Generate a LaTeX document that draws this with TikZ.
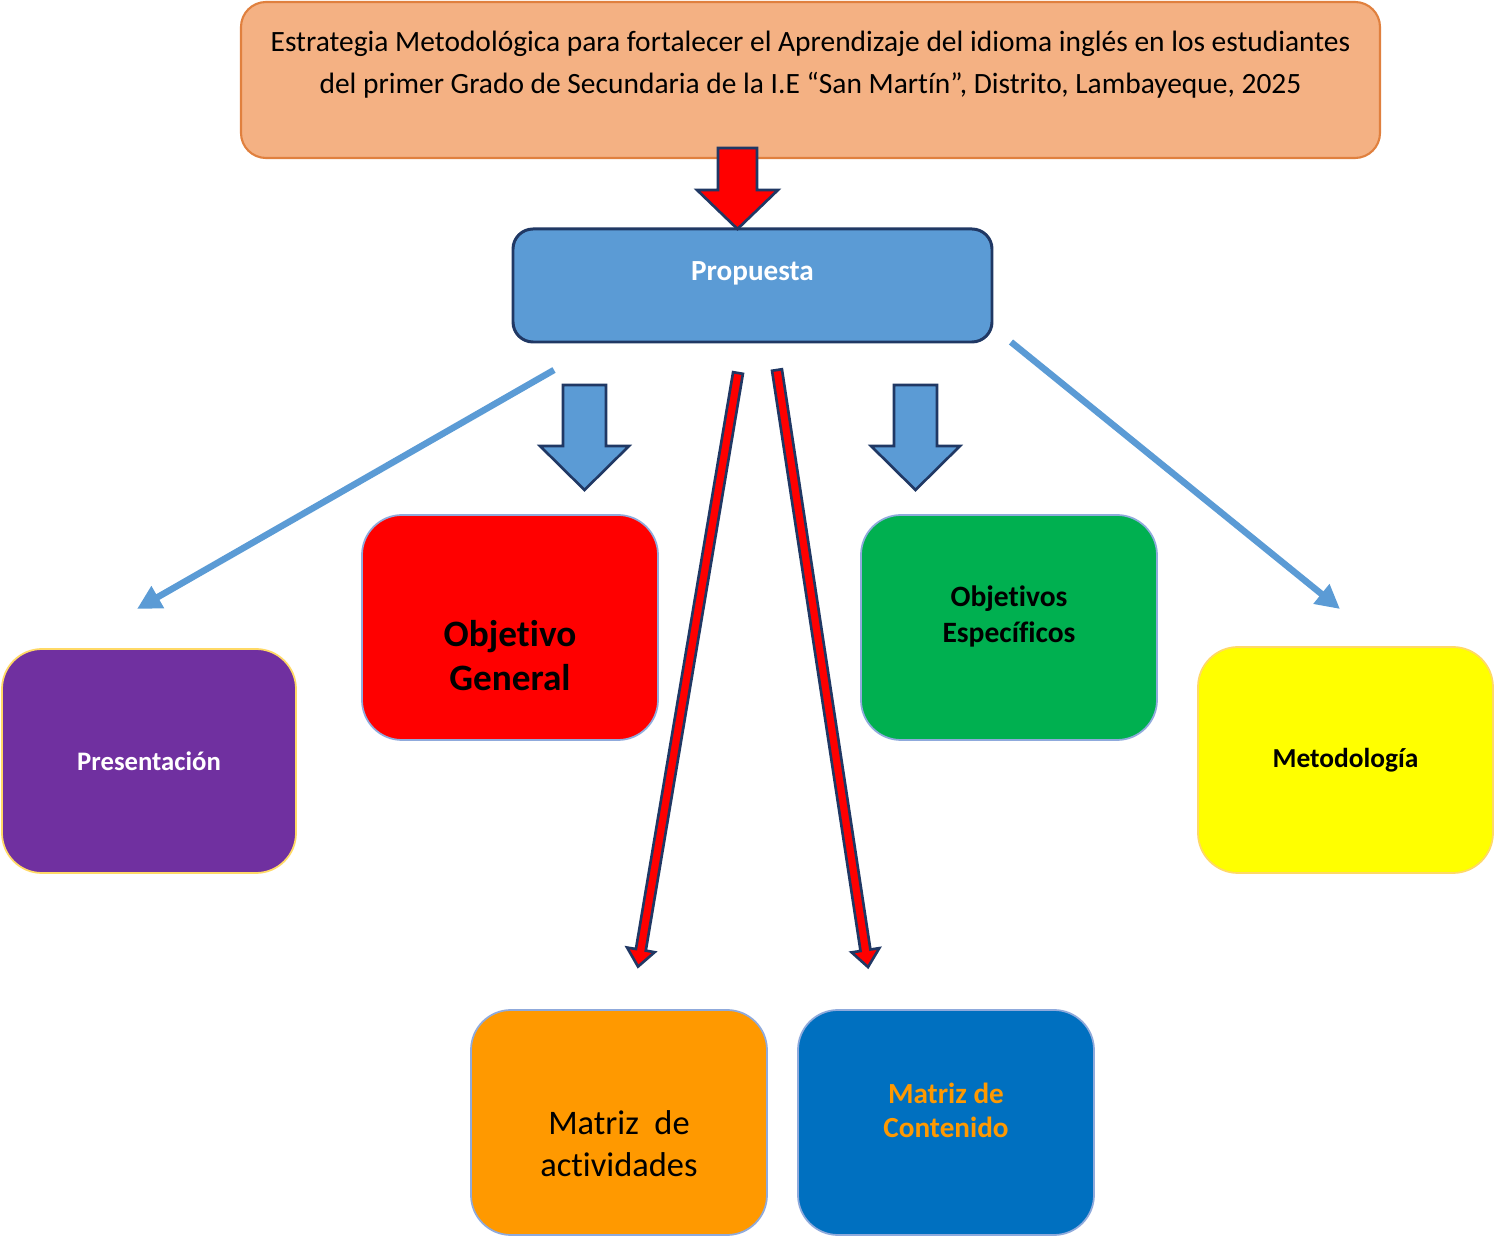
\documentclass[tikz,border=0pt]{standalone}
\usepackage{fontspec}
\setmainfont{Carlito}[Ligatures={NoCommon,NoRequired,NoContextual}]
\usetikzlibrary{arrows.meta}

\definecolor{salmon}{HTML}{F4B183}
\definecolor{naranjaborde}{HTML}{E0803E}
\definecolor{azulprop}{HTML}{5B9BD5}
\definecolor{azuloscuro}{HTML}{203864}
\definecolor{morado}{HTML}{7030A0}
\definecolor{verde}{HTML}{00B050}
\definecolor{amarillo}{HTML}{FFFF00}
\definecolor{naranja}{HTML}{FF9900}
\definecolor{azulmatriz}{HTML}{0070C0}
\definecolor{bordeclaro}{HTML}{8FAADC}
\definecolor{bordeamarillo}{HTML}{FFD966}

\begin{document}
\begin{tikzpicture}[
    caja/.style={rounded corners=0.4cm, minimum width=2.96cm, minimum height=2.25cm,
      draw=bordeclaro, line width=0.5pt},
    texto/.style={align=center, inner sep=0pt},
    flechafina/.style={draw=azulprop, line width=1.85pt,
      -{Triangle[length=0.24cm,width=0.24cm]}},
    pics/bloque/.style n args={4}{code={
      \path[pic actions] (0,-#2) -- ({#1-#4},-#2) -- ({#1-#4},-#3) -- (#1,0)
        -- ({#1-#4},#3) -- ({#1-#4},#2) -- (0,#2) -- cycle;
    }}
  ]
  \useasboundingbox (0,0) rectangle (14.94,-12.36);

  % cajas
  \node[draw=naranjaborde, fill=salmon, rounded corners=0.25cm, line width=0.6pt,
    minimum width=11.39cm, minimum height=1.56cm] (titulo) at (8.105,-0.80) {};
  \node[draw=azuloscuro, fill=azulprop, rounded corners=0.2cm, line width=0.85pt,
    minimum width=4.79cm, minimum height=1.13cm] (prop) at (7.525,-2.855) {};
  \node[caja, fill=morado, draw=bordeamarillo, minimum width=2.94cm, minimum height=2.24cm]
    (pres) at (1.49,-7.61) {};
  \node[caja, fill=red] (objgen) at (5.10,-6.275) {};
  \node[caja, fill=verde] (objesp) at (10.09,-6.275) {};
  \node[caja, fill=amarillo, draw=bordeamarillo, minimum width=2.95cm, minimum height=2.26cm]
    (metod) at (13.455,-7.60) {};
  \node[caja, fill=naranja] (matact) at (6.19,-11.225) {};
  \node[caja, fill=azulmatriz] (matcon) at (9.46,-11.225) {};

  % textos
  \node[texto, font=\fontsize{8.38}{12}\selectfont] (titulotxt) at ([yshift=0.15cm]titulo.center)
    {Estrategia Metodológica para fortalecer el Aprendizaje del idioma inglés en los estudiantes\\
     del primer Grado de Secundaria de la I.E “San Martín”, Distrito, Lambayeque, 2025};
  \node[texto, text=white, font=\fontsize{8.3}{10}\selectfont\bfseries] (proptxt)
    at ([yshift=0.12cm]prop.center) {Propuesta};
  \node[texto, text=white, font=\fontsize{7.6}{10}\selectfont\bfseries] (prestxt)
    at (pres.center) {Presentación};
  \node[texto, font=\fontsize{10.6}{12.5}\selectfont\bfseries] (objgentxt)
    at ([yshift=-0.28cm]objgen.center) {Objetivo\\General};
  \node[texto, font=\fontsize{8.4}{10.2}\selectfont\bfseries] (objesptxt)
    at ([yshift=0.11cm]objesp.center) {Objetivos\\Específicos};
  \node[texto, font=\fontsize{7.8}{10}\selectfont\bfseries] (metodtxt)
    at (metod.center) {Metodología};
  \node[texto, font=\fontsize{9.8}{12}\selectfont] (matacttxt)
    at ([yshift=-0.21cm]matact.center) {Matriz\ \ de\\actividades};
  \node[texto, text=naranja, font=\fontsize{8.3}{9.7}\selectfont\bfseries] (matcontxt)
    at ([yshift=0.12cm]matcon.center) {Matriz de\\Contenido};

  % flechas gruesas
  \pic[fill=red, draw=azuloscuro, line width=0.75pt, rotate=-90]
    at (7.375,-1.48) {bloque={0.81}{0.195}{0.405}{0.39}};
  \pic[fill=azulprop, draw=azuloscuro, line width=0.75pt, rotate=-90]
    at (5.845,-3.85) {bloque={1.05}{0.215}{0.445}{0.44}};
  \pic[fill=azulprop, draw=azuloscuro, line width=0.75pt, rotate=-90]
    at (9.155,-3.85) {bloque={1.05}{0.215}{0.445}{0.44}};
  \pic[fill=red, draw=azuloscuro, line width=0.75pt, rotate=260.44]
    at (7.38,-3.73) {bloque={6.02}{0.05}{0.14}{0.17}};
  \pic[fill=red, draw=azuloscuro, line width=0.75pt, rotate=278.67]
    at (7.77,-3.70) {bloque={6.04}{0.05}{0.14}{0.17}};

  % flechas finas
  \coordinate (salI) at (5.54,-3.70);
  \coordinate (llegI) at (1.37,-6.09);
  \coordinate (salD) at (10.11,-3.42);
  \coordinate (llegD) at (13.40,-6.09);
  \draw[flechafina] (salI) -- (llegI);
  \draw[flechafina] (salD) -- (llegD);
\end{tikzpicture}
\end{document}
